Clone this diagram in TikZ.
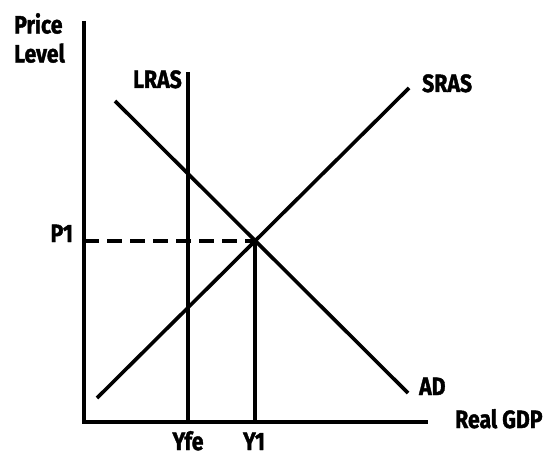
\documentclass[tikz,border=0pt]{standalone}
\usepackage{fontspec}
\setmainfont{Fira Sans}[BoldFeatures={FakeBold=1.6}]
\begin{document}
\begin{tikzpicture}[x=1pt,y=-1pt,
  curve/.style={line width=3.6pt},
  axisline/.style={line width=3.6pt},
  guide/.style={line width=3.4pt, dash pattern=on 15pt off 8pt},
  lbl/.style={font=\fontsize{25}{29}\selectfont\bfseries, inner sep=0pt, xscale=0.85}
]
\useasboundingbox (0,0) rectangle (556,457);
% coordinates
\coordinate (O) at (84,422);
\coordinate (ytop) at (84,21);
\coordinate (xend) at (428,422);
\coordinate (lrasT) at (188,72);
\coordinate (lrasB) at (188,422);
\coordinate (E) at (255,241);
\coordinate (y1B) at (255,422);
\coordinate (p1L) at (84,241);
\coordinate (srasS) at (97,398);
\coordinate (srasE) at (409,88);
\coordinate (adS) at (115,101);
\coordinate (adE) at (408,393);
% axes
\draw[axisline] (ytop) -- (O) -- (xend);
% curves
\draw[curve] (lrasT) -- (lrasB);
\draw[curve] (srasS) -- (srasE);
\draw[curve] (adS) -- (adE);
\draw[curve] (E) -- (y1B);
\draw[guide] (p1L) -- (E);
% labels
\node[lbl, align=left, anchor=west] (price) at (14,38) {Price\\Level};
\node[lbl, anchor=base east] (lras) at (182,88) {LRAS};
\node[lbl, anchor=base west] (sras) at (422,92) {SRAS};
\node[lbl, anchor=base east] (p1) at (73,242) {P1};
\node[lbl, anchor=base west] (ad) at (419,395) {AD};
\node[lbl, anchor=base west] (gdp) at (455,428) {Real GDP};
\node[lbl, anchor=base, text depth=0pt] (yfe) at (188,450) {Yfe};
\node[lbl, anchor=base, text depth=0pt] (y1) at (254,450) {Y1};
\end{tikzpicture}
\end{document}
